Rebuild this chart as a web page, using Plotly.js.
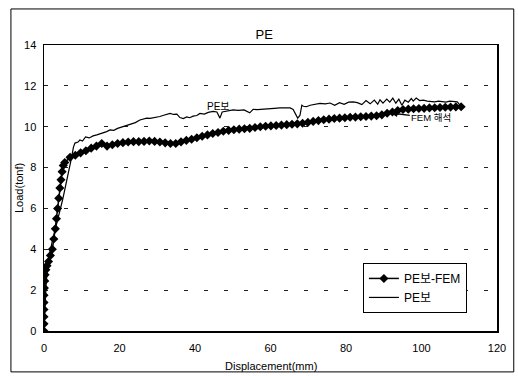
<!DOCTYPE html>
<html>
<head>
<meta charset="utf-8">
<script src="https://cdn.plot.ly/plotly-3.0.1.min.js"></script>
<style>html,body{margin:0;padding:0;background:#fff;}#chart{width:518px;height:376px;}</style>
</head>
<body>
<div id="chart"></div>
<script>
// PE보 (test) curve
const testX = [0, 0.3, 0.6, 1.0, 1.5, 2.2, 3.0, 3.6, 4.3, 4.9, 5.6, 6.3, 7.2, 7.8, 8.2, 9.0, 9.5, 10.2, 11.0, 12.0, 13.0, 14.0, 15.0, 16.6, 17.5, 18.5, 19.5, 20.5, 21.9, 23.0, 24.2, 25.4, 26.5, 27.2, 28.1, 29.5, 30.7, 31.5, 32.5, 33.4, 34.3, 35.2, 36.0, 36.9, 37.8, 38.6, 39.5, 40.5, 41.3, 42.5, 43.5, 44.8, 45.8, 46.6, 47.2, 48.2, 49.2, 50.1, 51.5, 53.0, 54.5, 55.4, 56.5, 57.5, 58.7, 59.9, 61.0, 62.5, 64.0, 65.2, 66.0, 66.6, 67.2, 67.8, 68.3, 68.7, 69.5, 70.5, 71.8, 73.1, 74.5, 75.8, 77.0, 78.3, 79.5, 80.7, 81.9, 83.0, 84.2, 85.3, 86.4, 87.5, 88.4, 89.0, 89.8, 90.8, 91.6, 92.4, 93.2, 94.0, 94.8, 95.6, 96.5, 97.3, 97.8, 98.6, 99.5, 100.5, 101.5, 102.5, 103.5, 104.5, 105.5, 106.5, 107.5, 108.5, 109.5, 110.2];
const testY = [0, 1.2, 2.4, 3.2, 3.8, 4.4, 5.0, 5.3, 5.9, 6.4, 7.0, 7.55, 8.4, 9.0, 9.2, 9.25, 9.35, 9.3, 9.5, 9.45, 9.55, 9.6, 9.65, 9.76, 9.84, 9.82, 9.92, 9.98, 10.06, 10.1, 10.2, 10.33, 10.38, 10.42, 10.41, 10.45, 10.5, 10.55, 10.62, 10.65, 10.6, 10.62, 10.45, 10.4, 10.48, 10.44, 10.52, 10.55, 10.65, 10.62, 10.7, 10.75, 10.72, 10.42, 10.72, 10.75, 10.78, 10.82, 10.8, 10.82, 10.68, 10.85, 10.84, 10.86, 10.88, 10.9, 10.9, 10.92, 10.9, 10.92, 10.85, 10.6, 10.42, 10.55, 11.05, 11.0, 10.98, 11.05, 11.08, 11.14, 11.12, 11.16, 11.05, 11.18, 11.1, 11.2, 11.22, 11.18, 11.08, 11.28, 11.12, 11.3, 11.1, 11.32, 11.15, 11.35, 11.2, 11.4, 11.15, 11.35, 11.05, 11.3, 11.2, 11.38, 11.25, 11.4, 11.28, 11.3, 11.25, 11.22, 11.22, 11.25, 11.22, 11.2, 11.25, 11.22, 11.22, 11.05];

// PE보-FEM curve
const femX = [0, 0, 0, 0, 0, 0, 0.1, 0.2, 0.3, 0.5, 0.8, 1.2, 1.7, 2.2, 2.6, 3.0, 3.3, 3.6, 3.9, 4.2, 4.5, 4.8, 5.1, 5.5, 6.9, 8.3, 9.7, 11.1, 12.5, 13.9, 15.3, 16.7, 18.1, 19.5, 20.9, 22.3, 23.7, 25.1, 26.5, 27.9, 29.3, 30.7, 32.1, 33.5, 34.9, 36.3, 37.7, 39.1, 40.5, 41.9, 43.3, 44.7, 46.1, 47.5, 48.9, 50.3, 51.7, 53.1, 54.5, 55.9, 57.3, 58.7, 60.1, 61.5, 62.9, 64.3, 65.7, 67.1, 68.5, 69.9, 71.3, 72.7, 74.1, 75.5, 76.9, 78.3, 79.7, 81.1, 82.5, 83.9, 85.3, 86.7, 88.1, 89.5, 90.9, 92.3, 93.7, 95.1, 96.5, 97.9, 99.3, 100.7, 102.1, 103.5, 104.9, 106.3, 107.7, 109.1, 110.5];
const femY = [0, 0.35, 0.7, 1.05, 1.4, 1.75, 2.1, 2.45, 2.75, 3.0, 3.2, 3.4, 3.7, 4.0, 4.5, 5.0, 5.5, 6.0, 6.5, 7.0, 7.4, 7.8, 8.1, 8.25, 8.5, 8.6, 8.72, 8.82, 8.95, 9.05, 9.18, 9.05, 9.12, 9.18, 9.22, 9.25, 9.27, 9.27, 9.28, 9.3, 9.28, 9.25, 9.21, 9.18, 9.18, 9.26, 9.33, 9.39, 9.46, 9.53, 9.6, 9.67, 9.72, 9.78, 9.82, 9.85, 9.88, 9.9, 9.92, 9.96, 10.0, 10.02, 10.04, 10.06, 10.08, 10.1, 10.12, 10.14, 10.17, 10.21, 10.26, 10.3, 10.34, 10.37, 10.4, 10.42, 10.44, 10.46, 10.47, 10.49, 10.5, 10.52, 10.54, 10.58, 10.66, 10.72, 10.79, 10.84, 10.86, 10.88, 10.89, 10.9, 10.92, 10.93, 10.94, 10.95, 10.96, 10.97, 10.98];

const xTicks = [0, 20, 40, 60, 80, 100, 120];
const yTicks = [0, 2, 4, 6, 8, 10, 12, 14];
const seriesNames = ['PE보-FEM', 'PE보'];

const FONT = 'Liberation Sans, Arial, Noto Sans CJK KR, sans-serif';

const traces = [
  {
    x: femX, y: femY, name: seriesNames[0], type: 'scatter', mode: 'lines+markers',
    line: {color: '#000', width: 1.5},
    marker: {symbol: 'diamond', size: 7, color: '#000'}
  },
  {
    x: testX, y: testY, name: seriesNames[1], type: 'scatter', mode: 'lines',
    line: {color: '#000', width: 1.2}
  }
];

const layout = {
  width: 518, height: 376,
  margin: {l: 44, r: 21, t: 45, b: 45},
  paper_bgcolor: '#fff', plot_bgcolor: '#fff',
  font: {family: FONT, color: '#000', size: 11},
  title: {text: 'PE', x: 0.486, xref: 'paper', y: 0.92, yref: 'container', font: {size: 13, family: FONT}},
  showlegend: true,
  legend: {
    x: 0.704, y: 0.238, xanchor: 'left', yanchor: 'top',
    bordercolor: '#000', borderwidth: 1, bgcolor: '#fff',
    font: {size: 12, family: FONT}, itemwidth: 30, tracegroupgap: 0
  },
  xaxis: {
    range: [0, 120], tickvals: xTicks, ticktext: xTicks.map(String),
    showline: true, linecolor: '#000', linewidth: 1.5, mirror: true,
    showgrid: false, zeroline: false, ticks: '', ticklabelstandoff: 6,
    tickfont: {size: 11, family: FONT}
  },
  yaxis: {
    range: [0, 14], tickvals: yTicks, ticktext: yTicks.map(String),
    showline: true, linecolor: '#000', linewidth: 1.5, mirror: true,
    showgrid: true, gridcolor: '#222', gridwidth: 1.2, griddash: '4px,16px',
    zeroline: false, ticks: '', ticklabelstandoff: 4,
    tickfont: {size: 11, family: FONT}
  },
  shapes: [
    {type: 'rect', xref: 'paper', yref: 'paper', x0: -0.073, x1: 1.037, y0: -0.143, y1: 1.126,
     line: {color: '#000', width: 1}, fillcolor: 'rgba(0,0,0,0)', layer: 'below'}
  ],
  annotations: [
    {xref: 'paper', yref: 'paper', x: (19 - 44) / 453, y: 0.5, xanchor: 'center', yanchor: 'middle',
     text: 'Load(tonf)', textangle: -90, showarrow: false, font: {size: 11, family: FONT}},
    {xref: 'paper', yref: 'paper', x: 0.5, y: (331 - 366) / 286, xanchor: 'center', yanchor: 'middle',
     text: 'Displacement(mm)', showarrow: false, font: {size: 11, family: FONT}},
    {xref: 'x', yref: 'y', x: 46.1, y: 10.97, text: 'PE보', showarrow: false,
     font: {size: 10, family: FONT}},
    {xref: 'x', yref: 'y', x: 91.9, y: 10.67, axref: 'x', ayref: 'y', ax: 102.6, ay: 10.43,
     text: 'FEM 해석', showarrow: true, arrowhead: 2, arrowsize: 1, arrowwidth: 1.3, arrowcolor: '#000',
     font: {size: 9.5, family: FONT}}
  ]
};

Plotly.newPlot('chart', traces, layout, {staticPlot: true, displayModeBar: false});
</script>
</body>
</html>
